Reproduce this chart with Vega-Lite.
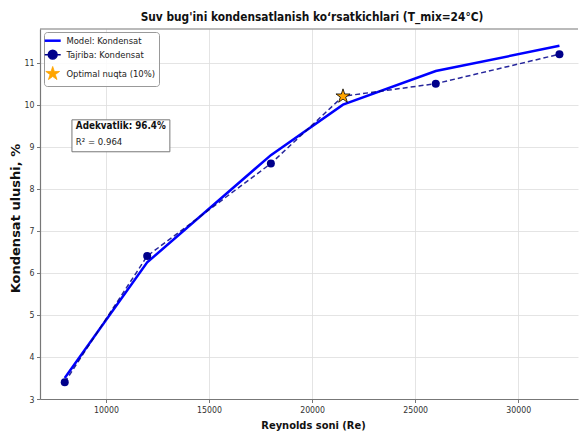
{
  "$schema": "https://vega.github.io/schema/vega-lite/v6.json",
  "width": 538,
  "height": 370,
  "autosize": {"type": "none"},
  "padding": {"left": 40, "top": 29, "right": 1, "bottom": 33},
  "background": "white",
  "config": {
    "font": "DejaVu Sans Condensed, DejaVu Sans",
    "view": {"stroke": null},
    "axis": {
      "gridColor": "#dddddd",
      "gridWidth": 0.8,
      "domainColor": "#777777",
      "domainWidth": 1.2,
      "tickColor": "#777777",
      "tickSize": 3.5,
      "labelFont": "DejaVu Sans Condensed, DejaVu Sans",
      "labelFontSize": 8.7,
      "labelColor": "#333333",
      "titleFont": "DejaVu Sans Condensed, DejaVu Sans",
      "titleFontSize": 11,
      "titleFontWeight": "bold",
      "titleColor": "#111111"
    }
  },
  "title": {
    "text": "Suv bug'ini kondensatlanish koʻrsatkichlari (T_mix=24°C)",
    "font": "DejaVu Sans Condensed, DejaVu Sans",
    "fontSize": 11.8,
    "fontWeight": "bold",
    "color": "#111111",
    "anchor": "middle",
    "offset": 5,
    "dx": 3
  },
  "datasets": {
    "kondensat": [
      {"Re": 8000, "model": 3.5, "tajriba": 3.4, "optimal": false},
      {"Re": 12000, "model": 6.25, "tajriba": 6.4, "optimal": false},
      {"Re": 18000, "model": 8.8, "tajriba": 8.6, "optimal": false},
      {"Re": 21500, "model": 10.0, "tajriba": 10.2, "optimal": true},
      {"Re": 26000, "model": 10.8, "tajriba": 10.5, "optimal": false},
      {"Re": 32000, "model": 11.4, "tajriba": 11.2, "optimal": false}
    ],
    "izoh": [
      {"Re0": 8350, "Re1": 13100, "y0": 9.64, "y1": 8.88, "Re_text": 8540, "y_bold": 9.5, "y_r2": 9.12, "adekvat": "Adekvatlik: 96.4%", "r2": "R² = 0.964"}
    ],
    "ramka": [
      {"Re0": 6800, "Re1": 32900, "y": 11.8}
    ]
  },
  "layer": [
    {
      "data": {"name": "kondensat"},
      "mark": {"type": "line", "strokeWidth": 2.5, "clip": true},
      "encoding": {
        "x": {
          "field": "Re",
          "type": "quantitative",
          "scale": {"domain": [6800, 32900], "nice": false, "zero": false},
          "axis": {
            "title": "Reynolds soni (Re)",
            "values": [10000, 15000, 20000, 25000, 30000],
            "format": "d",
            "labelPadding": 3,
            "titleX": 273,
            "titleY": 26,
            "titleBaseline": "middle",
            "titleAlign": "center"
          }
        },
        "y": {
          "field": "model",
          "type": "quantitative",
          "scale": {"domain": [3, 11.8], "nice": false, "zero": false},
          "axis": {
            "title": "Kondensat ulushi, %",
            "values": [3, 4, 5, 6, 7, 8, 9, 10, 11],
            "labelPadding": 2.5,
            "titleFont": "DejaVu Sans",
            "titleFontSize": 13,
            "titleX": -25,
            "titleY": 189,
            "titleAngle": -90,
            "titleAlign": "center",
            "titleBaseline": "middle"
          }
        },
        "color": {
          "datum": "Model: Kondensat",
          "type": "nominal",
          "scale": {
            "domain": ["Model: Kondensat", "Tajriba: Kondensat", "Optimal nuqta (10%)"],
            "range": ["#0000ff", "#00008b", "#ffa500"]
          },
          "legend": {
            "title": null,
            "orient": "none",
            "legendX": 4,
            "legendY": 3,
            "padding": 4,
            "fillColor": "rgba(255,255,255,0.85)",
            "strokeColor": "#999999",
            "cornerRadius": 3,
            "rowPadding": 1,
            "symbolSize": 256,
            "labelOffset": 9,
            "labelFont": "DejaVu Sans Condensed, DejaVu Sans",
            "labelFontSize": 9.4,
            "labelColor": "#222222",
            "encode": {
              "symbols": {
                "update": {
                  "shape": {"signal": "datum.value === 'Model: Kondensat' ? 'stroke' : datum.value === 'Tajriba: Kondensat' ? 'M-1,0H-0.62M0.62,0H1M0.55,0A0.55,0.55 0 1,1 -0.55,0A0.55,0.55 0 1,1 0.55,0Z' : 'M0,-1L0.2245,-0.309L0.951,-0.309L0.363,0.118L0.588,0.809L0,0.382L-0.588,0.809L-0.363,0.118L-0.951,-0.309L-0.2245,-0.309Z'"},
                  "size": {"signal": "datum.value === 'Optimal nuqta (10%)' ? 210 : 256"},
                  "fill": {"signal": "datum.value === 'Model: Kondensat' ? 'transparent' : datum.value === 'Tajriba: Kondensat' ? '#00008b' : '#ffa500'"},
                  "stroke": {"signal": "datum.value === 'Model: Kondensat' ? '#0000ff' : datum.value === 'Tajriba: Kondensat' ? '#00008b' : '#000000'"},
                  "strokeWidth": {"signal": "datum.value === 'Model: Kondensat' ? 2.5 : datum.value === 'Tajriba: Kondensat' ? 1.5 : 0.8"},
                  "opacity": {"value": 1},
                  "fillOpacity": {"value": 1},
                  "strokeOpacity": {"value": 1}
                }
              }
            }
          }
        }
      }
    },
    {
      "data": {"name": "kondensat"},
      "mark": {"type": "line", "strokeWidth": 1.5, "strokeDash": [5, 3], "opacity": 0.85},
      "encoding": {
        "x": {"field": "Re", "type": "quantitative"},
        "y": {"field": "tajriba", "type": "quantitative"},
        "color": {"datum": "Tajriba: Kondensat", "type": "nominal"}
      }
    },
    {
      "data": {"name": "kondensat"},
      "transform": [{"filter": "!datum.optimal"}],
      "mark": {"type": "point", "filled": true, "size": 64, "opacity": 1},
      "encoding": {
        "x": {"field": "Re", "type": "quantitative"},
        "y": {"field": "tajriba", "type": "quantitative"},
        "color": {"datum": "Tajriba: Kondensat", "type": "nominal"}
      }
    },
    {
      "data": {"name": "kondensat"},
      "transform": [{"filter": "datum.optimal"}],
      "mark": {
        "type": "point",
        "filled": true,
        "size": 220,
        "opacity": 1,
        "stroke": "#000000",
        "strokeWidth": 0.8,
        "shape": "M0,-1L0.2245,-0.309L0.951,-0.309L0.363,0.118L0.588,0.809L0,0.382L-0.588,0.809L-0.363,0.118L-0.951,-0.309L-0.2245,-0.309Z"
      },
      "encoding": {
        "x": {"field": "Re", "type": "quantitative"},
        "y": {"field": "tajriba", "type": "quantitative"},
        "color": {"datum": "Optimal nuqta (10%)", "type": "nominal"}
      }
    },
    {
      "data": {"name": "ramka"},
      "mark": {"type": "rule", "color": "#777777", "strokeWidth": 1.2},
      "encoding": {
        "x": {"field": "Re0", "type": "quantitative"},
        "x2": {"field": "Re1"},
        "y": {"field": "y", "type": "quantitative"}
      }
    },
    {
      "data": {"name": "izoh"},
      "layer": [
        {
          "mark": {"type": "rect", "fill": "white", "stroke": "#777777", "strokeWidth": 1},
          "encoding": {
            "x": {"field": "Re0", "type": "quantitative"},
            "x2": {"field": "Re1"},
            "y": {"field": "y0", "type": "quantitative"},
            "y2": {"field": "y1"}
          }
        },
        {
          "mark": {"type": "text", "align": "left", "baseline": "middle", "font": "DejaVu Sans Condensed, DejaVu Sans", "fontSize": 9.8, "fontWeight": "bold", "color": "#111111"},
          "encoding": {
            "x": {"field": "Re_text", "type": "quantitative"},
            "y": {"field": "y_bold", "type": "quantitative"},
            "text": {"field": "adekvat"}
          }
        },
        {
          "mark": {"type": "text", "align": "left", "baseline": "middle", "font": "DejaVu Sans Condensed, DejaVu Sans", "fontSize": 9.5, "color": "#222222"},
          "encoding": {
            "x": {"field": "Re_text", "type": "quantitative"},
            "y": {"field": "y_r2", "type": "quantitative"},
            "text": {"field": "r2"}
          }
        }
      ]
    }
  ]
}
